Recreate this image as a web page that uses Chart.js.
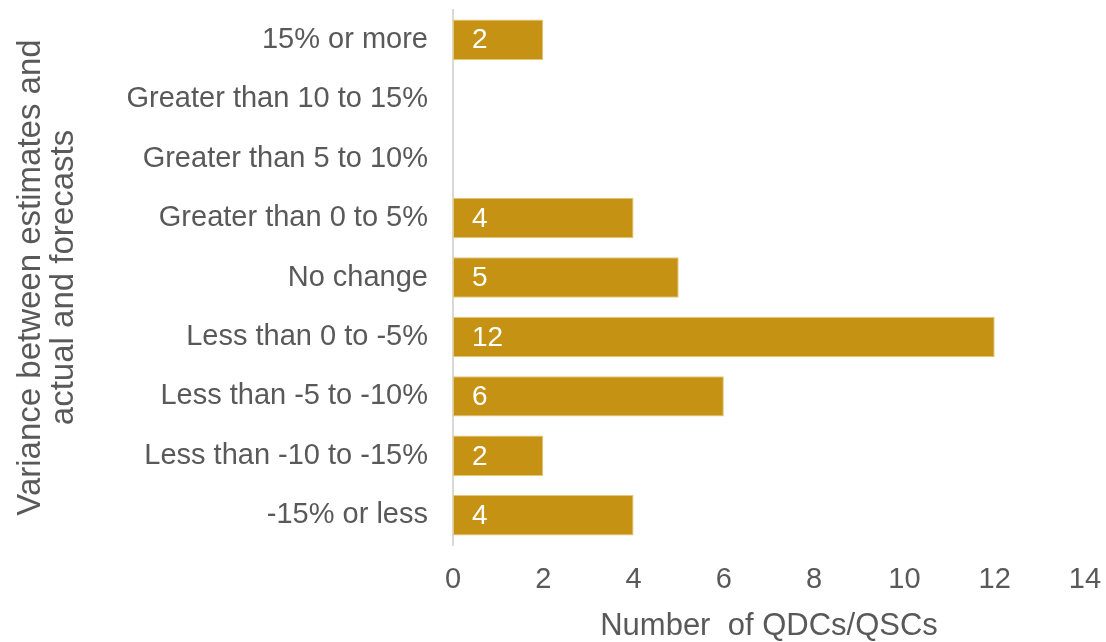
<!DOCTYPE html>
<html>
<head>
<meta charset="utf-8">
<script src="https://cdn.jsdelivr.net/npm/chart.js@4.4.1/dist/chart.umd.min.js"></script>
<style>
  html, body { margin: 0; padding: 0; background: #ffffff; }
  #wrap { width: 1106px; height: 642px; position: relative; }
</style>
</head>
<body>
<div id="wrap"><canvas id="chart"></canvas></div>
<script>
// Variance bands, top to bottom
const categories = [
  '15% or more',
  'Greater than 10 to 15%',
  'Greater than 5 to 10%',
  'Greater than 0 to 5%',
  'No change',
  'Less than 0 to -5%',
  'Less than -5 to -10%',
  'Less than -10 to -15%',
  '-15% or less'
];
// Number of QDCs/QSCs in each band
const counts = [2, 0, 0, 4, 5, 12, 6, 2, 4];
const xTicks = [0, 2, 4, 6, 8, 10, 12, 14];
const yTitleLines = ['Variance between estimates and', 'actual and forecasts'];
const xTitle = 'Number  of QDCs/QSCs';

const FONT = "'Liberation Sans', Arial, sans-serif";
const TEXT = '#595959';
const GOLD = '#C69214';

// Writes each non-zero count in white near the base of its bar
const barValueLabels = {
  id: 'barValueLabels',
  afterDatasetsDraw(chart) {
    const ctx = chart.ctx;
    const meta = chart.getDatasetMeta(0);
    ctx.save();
    ctx.fillStyle = '#ffffff';
    ctx.font = '28px ' + FONT;
    ctx.textAlign = 'left';
    ctx.textBaseline = 'middle';
    meta.data.forEach((bar, i) => {
      const v = counts[i];
      if (!v) return;
      ctx.fillText(String(v), bar.base + 19, bar.y + 1);
    });
    ctx.restore();
  }
};

new Chart(document.getElementById('chart'), {
  type: 'bar',
  data: {
    labels: categories,
    datasets: [{
      data: counts,
      backgroundColor: GOLD,
      borderColor: '#E6C678',
      borderWidth: c => (c.raw ? 1 : 0),
      borderSkipped: false,
      categoryPercentage: 1.0,
      barPercentage: 0.68
    }]
  },
  options: {
    indexAxis: 'y',
    responsive: true,
    maintainAspectRatio: false,
    animation: false,
    layout: { padding: { top: 10, right: 21, bottom: 0, left: 14 } },
    plugins: {
      legend: { display: false },
      tooltip: { enabled: false }
    },
    scales: {
      x: {
        min: 0,
        max: 14,
        afterBuildTicks: s => { s.ticks = xTicks.map(v => ({ value: v })); },
        grid: { display: false, drawTicks: false },
        border: { display: false },
        ticks: { color: TEXT, font: { family: FONT, size: 29 }, padding: 18 },
        title: {
          display: true,
          text: xTitle,
          color: TEXT,
          font: { family: FONT, size: 31, lineHeight: 1.0 },
          padding: { top: 0, bottom: 0 }
        },
        afterFit: s => { s.height = 97; s.paddingLeft = 0; s.paddingRight = 0; }
      },
      y: {
        grid: { display: false, drawTicks: false },
        border: { display: true, color: '#D9D9D9', width: 2 },
        ticks: { color: TEXT, font: { family: FONT, size: 29 }, padding: 25 },
        title: {
          display: true,
          text: yTitleLines,
          color: TEXT,
          font: { family: FONT, size: 33, lineHeight: 1.0 },
          padding: { top: 0, bottom: 0 }
        },
        afterFit: s => { s.width = 439; s.paddingTop = 0; s.paddingBottom = 0; }
      }
    }
  },
  plugins: [barValueLabels]
});
</script>
</body>
</html>
